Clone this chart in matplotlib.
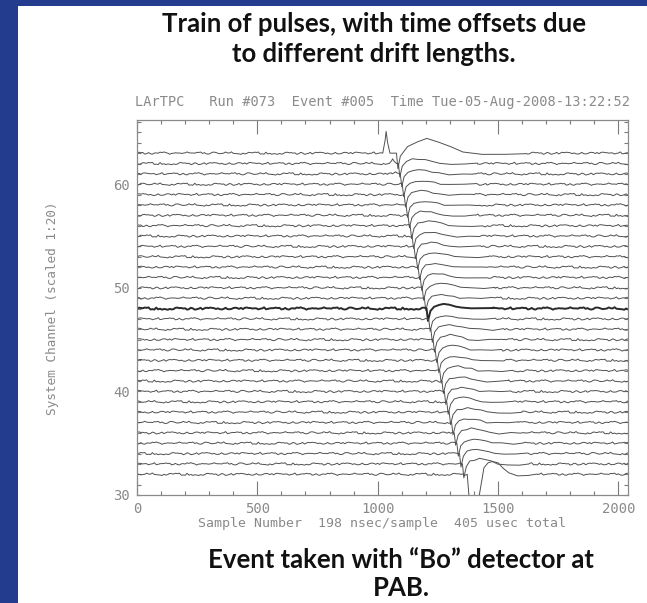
import numpy as np
import matplotlib
matplotlib.use("Agg")
import matplotlib.pyplot as plt
from matplotlib.patches import Rectangle
from matplotlib.ticker import MultipleLocator

# Wire channels shown, top to bottom
channels = list(range(63, 31, -1))

# Sample at which each channel's bipolar pulse starts (drift-time offset)
dip_sample = [1078, 1086, 1094, 1102, 1110, 1118, 1126, 1135, 1143, 1151,
              1160, 1168, 1177, 1185, 1194, 1203, 1212, 1221, 1230, 1239,
              1248, 1258, 1267, 1277, 1287, 1297, 1307, 1318, 1329, 1340,
              1352, 1372]
# Depth of the negative lobe (in channel units, scaled 1:20)
dip_depth = [1.5, 1.3, 1.25, 1.2, 1.2, 1.2, 1.2, 1.25, 1.2, 1.2,
             1.2, 1.2, 1.25, 1.2, 1.2, 1.2, 1.2, 1.25, 1.2, 1.2,
             1.2, 1.2, 1.2, 1.25, 1.2, 1.2, 1.2, 1.2, 1.25, 1.3,
             1.35, 6.0]
dip_width = [1.0] * 31 + [3.5]
# Height and time stretch of the positive lobe that follows
hump_amp = [1.35, 0.45, 0.4, 0.35, 0.4, 0.35, 0.4, 0.45, 0.35, 0.4,
            0.4, 0.35, 0.4, 0.45, 0.35, 0.4, 0.3, 0.4, 0.45, 0.4,
            0.35, 0.4, 0.4, 0.35, 0.45, 0.4, 0.35, 0.4, 0.4, 0.45,
            0.5, 1.3]
hump_stretch = [2.0, 1.2, 1.1, 1.1, 1.0, 1.1, 1.0, 1.1, 1.0, 1.0,
                1.1, 1.0, 1.0, 1.1, 1.0, 1.0, 1.0, 1.1, 1.0, 1.0,
                1.0, 1.1, 1.0, 1.0, 1.0, 1.1, 1.0, 1.0, 1.0, 1.0,
                1.0, 0.9]
# Early induction spike seen on the top channels
pre_sample = [1035, 1062, 1074] + [0] * 29
pre_amp = [2.1, 0.45, 0.2] + [0.0] * 29

# Pulse shapes (offsets in samples)
DIP_DT = [0, 6, 16]
DIP_SHAPE = [0.0, -1.0, -0.2]
HUMP_DT = [15, 35, 55, 80, 105, 130, 170, 220, 260]
HUMP_SHAPE = [0.45, 0.85, 1.0, 0.8, 0.45, 0.1, -0.1, -0.1, 0.0]
PRE_DT = [-14, -4, 0, 6, 16]
PRE_SHAPE = [0.0, 0.6, 1.0, 0.5, 0.0]

# Baseline noise table, read every 8 samples
KNOT_STEP = 8
wiggle = [0.04, -0.06, 0.02, 0.10, -0.03, -0.12, 0.05, 0.00, -0.08, 0.07, 0.12, -0.02, -0.10, 0.03, 0.08, -0.05,
          0.01, -0.09, 0.06, 0.14, 0.02, -0.07, -0.02, 0.09, -0.11, -0.04, 0.05, 0.01, -0.06, 0.10, 0.03, -0.08,
          0.07, -0.01, -0.13, 0.04, 0.11, 0.00, -0.05, 0.06, -0.09, 0.02, 0.13, -0.03, -0.07, 0.05, 0.09, -0.10,
          0.00, 0.06, -0.04, -0.12, 0.03, 0.08, -0.02, 0.11, -0.06, -0.01, 0.07, -0.08, 0.04, 0.12, -0.05, 0.01,
          -0.10, 0.05, 0.02, -0.07, 0.09, -0.03, -0.11, 0.06, 0.00, 0.10, -0.04, 0.03, -0.09, 0.07, 0.13, -0.02,
          -0.06, 0.04, -0.12, 0.08, 0.01, -0.05, 0.11, 0.02, -0.08, 0.06, -0.01, -0.13, 0.05, 0.09, -0.04, 0.00,
          0.07, -0.10, 0.03, 0.12, -0.06, 0.02, -0.03, 0.08, -0.09, 0.05, 0.10, -0.02, -0.07, 0.04, 0.01, -0.11,
          0.06, 0.13, -0.05, 0.00, -0.08, 0.09, 0.03, -0.04, 0.11, -0.12, 0.02, 0.07, -0.06, 0.04, -0.01, 0.08]

x_ticks = [0, 500, 1000, 1500, 2000]
y_ticks = [30, 40, 50, 60]

BLUE = "#243c8e"
TRACE = "#505050"
GREY_TEXT = "#8a8a8a"


def build_trace(i):
    """Vertices (sample, level) for one channel."""
    n = len(wiggle)
    roll = (i * 37) % n
    t0 = dip_sample[i]
    pts = []
    # pre-spike
    if pre_amp[i] > 0:
        for dt, s in zip(PRE_DT, PRE_SHAPE):
            pts.append((pre_sample[i] + dt, pre_amp[i] * s))
    # negative lobe
    for dt, s in zip(DIP_DT, DIP_SHAPE):
        pts.append((t0 + dt * dip_width[i], dip_depth[i] * s))
    # positive lobe with some noise on top
    start = t0 + DIP_DT[-1] * dip_width[i]
    for j, (dt, s) in enumerate(zip(HUMP_DT, HUMP_SHAPE)):
        pts.append((start + dt * hump_stretch[i],
                    hump_amp[i] * s + 0.6 * wiggle[(roll + 5 * j) % n]))
    lo = pts[0][0]
    hi = pts[-1][0]
    for k in range(2048 // KNOT_STEP + 1):
        xk = k * KNOT_STEP
        if xk < lo or xk > hi:
            pts.append((xk, 0.9 * wiggle[(3 * k + roll) % n]))
    pts.sort(key=lambda p: p[0])
    xs = np.array([p[0] for p in pts])
    ys = np.array([p[1] for p in pts]) + channels[i]
    return xs, ys


fig = plt.figure(figsize=(6.47, 6.03), dpi=100, facecolor=BLUE)
fig.patches.append(Rectangle((18 / 647, 0), 1, 1 - 6 / 603, transform=fig.transFigure,
                             facecolor="white", edgecolor="none", zorder=-1))

ax = fig.add_axes([137 / 647, 1 - 495 / 603, 491 / 647, 375 / 603])
for i, ch in enumerate(channels):
    xs, ys = build_trace(i)
    if ch == 48:
        ax.plot(xs, ys, color="#2a2a2a", lw=1.4)
    else:
        ax.plot(xs, ys, color=TRACE, lw=0.7)

ax.set_xlim(0, 2040)
ax.set_ylim(30, 66.2)
ax.set_xticks(x_ticks)
ax.set_yticks(y_ticks)
ax.xaxis.set_minor_locator(MultipleLocator(100))
ax.yaxis.set_minor_locator(MultipleLocator(1))
ax.tick_params(axis="both", which="both", direction="in", top=True, right=True,
               color="#7a7a7a", width=0.8, labelcolor=GREY_TEXT, labelsize=10)
ax.tick_params(axis="x", which="major", length=10, pad=5)
ax.tick_params(axis="x", which="minor", length=3)
ax.tick_params(axis="y", which="both", length=3, pad=5)
for lab in ax.get_xticklabels() + ax.get_yticklabels():
    lab.set_family("DejaVu Sans Mono")
for sp in ax.spines.values():
    sp.set_color("#8a8a8a")
    sp.set_linewidth(0.9)

fig.text(0.591, 1 - 102 / 603,
         "LArTPC   Run #073  Event #005  Time Tue-05-Aug-2008-13:22:52",
         ha="center", va="center", family="DejaVu Sans Mono", fontsize=9.8, color=GREY_TEXT)
fig.text(0.591, 1 - 523 / 603, "Sample Number  198 nsec/sample  405 usec total",
         ha="center", va="center", family="DejaVu Sans Mono", fontsize=9.5, color=GREY_TEXT)
fig.text(53 / 647, 1 - 308 / 603, "System Channel (scaled 1:20)", rotation=90,
         ha="center", va="center", family="DejaVu Sans Mono", fontsize=9.2, color=GREY_TEXT)

fig.text(374 / 647, 1 - 39 / 603, "Train of pulses, with time offsets due\nto different drift lengths.",
         ha="center", va="center", family="Lato", fontweight="bold", fontsize=18.5,
         linespacing=1.25, color="#111111")
fig.text(401 / 647, 1 - 574 / 603, "Event taken with \u201cBo\u201d detector at\nPAB.",
         ha="center", va="center", family="Lato", fontweight="bold", fontsize=18.5,
         linespacing=1.15, color="#111111")

fig.savefig("out.png", dpi=100, facecolor=fig.get_facecolor())
